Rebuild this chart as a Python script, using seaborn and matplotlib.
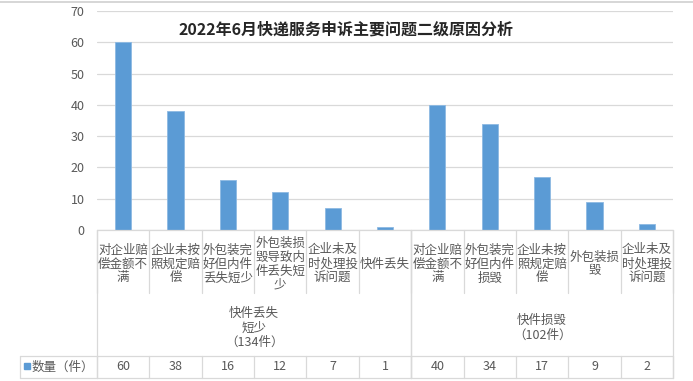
"""2022年6月快递服务申诉主要问题二级原因分析 - bar chart with Excel-style data table."""

import numpy as np
import pandas as pd
import matplotlib
matplotlib.use('Agg')
import matplotlib.pyplot as plt
import matplotlib.transforms as mtrans
import seaborn as sns

# Data
categories = ['对企业赔\n偿金额不\n满', '企业未按\n照规定赔\n偿', '外包装完\n好但内件\n丢失短少',
              '外包装损\n毁导致内\n件丢失短\n少', '企业未及\n时处理投\n诉问题', '快件丢失',
              '对企业赔\n偿金额不\n满', '外包装完\n好但内件\n损毁', '企业未按\n照规定赔\n偿',
              '外包装损\n毁', '企业未及\n时处理投\n诉问题']
values = [60, 38, 16, 12, 7, 1, 40, 34, 17, 9, 2]
groups = ['快件丢失\n短少\n（134件）', '快件损毁\n（102件）']
group_sizes = [6, 5]
series_name = '数量（件）'
title = '2022年6月快递服务申诉主要问题二级原因分析'
yticks = [0, 10, 20, 30, 40, 50, 60, 70]

sns.set_theme(style='white')
plt.rcParams['font.family'] = ['Noto Sans CJK SC', 'DejaVu Sans']

BAR = '#5B9BD5'
GRID = '#D9D9D9'
TXT = '#595959'

W, H = 693, 381
fig = plt.figure(figsize=(W / 100, H / 100), dpi=100)
# plot area in pixels
px0, px1, py_top, py_bot = 97, 673, 11, 230
ax = fig.add_axes([px0 / W, 1 - py_bot / H, (px1 - px0) / W, (py_bot - py_top) / H])

df = pd.DataFrame({'idx': range(len(values)), 'value': values})
sns.barplot(data=df, x='idx', y='value', color=BAR, width=0.31, saturation=1,
            edgecolor='#8DB9E3', linewidth=0.6, ax=ax)

ax.set_xlim(-0.5, len(values) - 0.5)
ax.set_ylim(0, 70)
ax.set_yticks(yticks)
ax.set_yticklabels([str(t) for t in yticks], color=TXT, fontsize=9)
ax.set_xticks([])
ax.set_xlabel('')
ax.set_ylabel('')
ax.tick_params(axis='y', length=0, pad=9)
for s in ax.spines.values():
    s.set_visible(False)
for t in yticks:
    ax.axhline(t, color=GRID, lw=0.9, zorder=0)


def ay(py):
    """Pixel row -> axes y fraction."""
    return (py_bot - py) / (py_bot - py_top)


trans = mtrans.blended_transform_factory(ax.transData, ax.transAxes)
line_kw = dict(color=GRID, lw=0.9, clip_on=False, transform=trans)

row_cat = 293
row_grp = 356
row_tab = 378

# category labels and their separators
for i, lab in enumerate(categories):
    ax.text(i, ay(264), lab, ha='center', va='center', fontsize=9, color=TXT,
            linespacing=1.1, transform=trans)
for i in range(len(values) + 1):
    x = i - 0.5
    ax.plot([x, x], [ay(py_bot), ay(row_cat)], **line_kw)
    ax.plot([x, x], [ay(row_grp), ay(row_tab)], **line_kw)

# group labels and group separators
start = 0
for g, n in zip(groups, group_sizes):
    x0, x1 = start - 0.5, start + n - 0.5
    ax.plot([x0, x0], [ay(py_bot), ay(row_tab)], **line_kw)
    ax.plot([x1, x1], [ay(py_bot), ay(row_tab)], **line_kw)
    ax.text((x0 + x1) / 2, ay(328), g, ha='center', va='center', fontsize=9,
            color=TXT, linespacing=1.15, transform=trans)
    start += n

# data table row
for i, v in enumerate(values):
    ax.text(i, ay(367), str(v), ha='center', va='center', fontsize=9, color=TXT,
            transform=trans)

# horizontal table lines in figure coords
fig_kw = dict(color=GRID, lw=0.9, transform=fig.transFigure)
fig.add_artist(plt.Line2D([px0 / W, px1 / W], [1 - py_bot / H] * 2, **fig_kw))
fig.add_artist(plt.Line2D([20 / W, px1 / W], [1 - row_grp / H] * 2, **fig_kw))
fig.add_artist(plt.Line2D([20 / W, px1 / W], [1 - row_tab / H] * 2, **fig_kw))
fig.add_artist(plt.Line2D([20 / W, 20 / W], [1 - row_grp / H, 1 - row_tab / H], **fig_kw))
fig.add_artist(plt.Line2D([0, 1], [1 - 1.5 / H] * 2, color='#D0D0D0', lw=1.2,
                          transform=fig.transFigure))

# legend key in the table
fig.add_artist(plt.Rectangle((24 / W, 1 - 369 / H), 6 / W, 6 / H, color=BAR,
                             transform=fig.transFigure))
fig.text(32 / W, 1 - 367 / H, series_name, ha='left', va='center', fontsize=9,
         color=TXT)

fig.text(346 / W, 1 - 30 / H, title, ha='center', va='center', fontsize=11.5,
         fontweight='bold', color='#262626')

fig.savefig('out.png', dpi=100)
